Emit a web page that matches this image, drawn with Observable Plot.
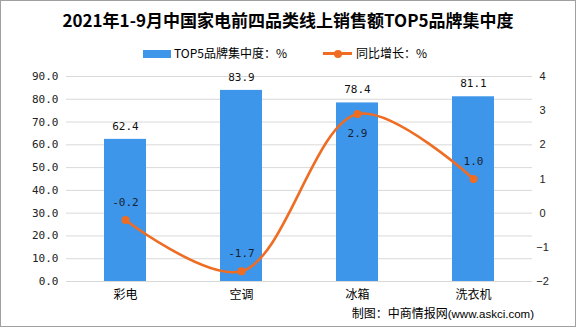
<!DOCTYPE html>
<html><head><meta charset="utf-8">
<script src="https://cdn.jsdelivr.net/npm/d3@7"></script>
<script src="https://cdn.jsdelivr.net/npm/@observablehq/plot@0.6"></script>
<style>
html,body{margin:0;padding:0;background:#fff;}
#wrap{position:relative;width:576px;height:327px;overflow:hidden;background:#fff;font-family:"Noto Sans CJK SC",sans-serif;color:#000;}
#frame{position:absolute;left:0;top:0;width:576px;height:327px;box-sizing:border-box;border:1px solid #a0a0a0;pointer-events:none;}
#title{position:absolute;left:0;top:9px;width:576px;text-align:center;font-size:17px;font-weight:bold;line-height:22px;white-space:nowrap;}
.lg{position:absolute;font-size:12px;line-height:14px;top:46px;white-space:nowrap;}
#c1,#c2{position:absolute;left:0;top:62px;}
#caption{position:absolute;right:42px;top:305px;font-size:12px;line-height:16px;white-space:nowrap;}
#caption .u{font-family:"Liberation Sans",Arial,sans-serif;font-size:11.5px;}
</style></head>
<body>
<div id="wrap">
  <div id="c1"></div>
  <div id="c2"></div>
  <div id="title"></div>
  <div id="legend"></div>
  <div id="caption"><span id="capA"></span><span class="u" id="capB"></span></div>
  <div id="frame"></div>
</div>
<script>
const titleText = "2021年1-9月中国家电前四品类线上销售额TOP5品牌集中度";
const seriesNames = ["TOP5品牌集中度：%", "同比增长：%"];
const categories = ["彩电", "空调", "冰箱", "洗衣机"];
const shareValues = [62.4, 83.9, 78.4, 81.1];
const growthValues = [-0.2, -1.7, 2.9, 1.0];
const leftTicks = [0, 10, 20, 30, 40, 50, 60, 70, 80, 90];
const rightTicks = [-2, -1, 0, 1, 2, 3, 4];
const captionA = "制图：中商情报网";
const captionB = "(www.askci.com)";

const BLUE = "#3d96ea";
const ORANGE = "#ef6c23";
const MONO = "'DejaVu Sans Mono', 'Liberation Mono', monospace";

const data = categories.map((c, i) => ({cat: c, share: shareValues[i], growth: growthValues[i]}));
const maxGrowth = d3.max(growthValues);

document.getElementById("title").textContent = titleText;
document.getElementById("capA").textContent = captionA;
document.getElementById("capB").textContent = captionB;

// legend
const legend = document.getElementById("legend");
legend.innerHTML =
  `<div style="position:absolute;left:143px;top:50px;width:28px;height:8px;background:${BLUE}"></div>` +
  `<div class="lg" style="left:174px">${seriesNames[0]}</div>` +
  `<div style="position:absolute;left:323px;top:52px;width:29px;height:3px;background:${ORANGE}"></div>` +
  `<div style="position:absolute;left:334px;top:49.5px;width:8px;height:8px;border-radius:50%;background:${ORANGE}"></div>` +
  `<div class="lg" style="left:356px">${seriesNames[1]}</div>`;

const common = {
  width: 576, height: 265,
  marginTop: 14, marginBottom: 46, marginLeft: 66, marginRight: 44,
  x: {domain: categories, paddingInner: 0.64, paddingOuter: 0.32, label: null},
  style: {background: "transparent", fontFamily: "'Noto Sans CJK SC', sans-serif", fontSize: "11px", color: "#000"}
};

const p1 = Plot.plot({
  ...common,
  y: {domain: [0, 90], label: null},
  marks: [
    Plot.gridY(leftTicks, {stroke: "#d9d9d9", strokeOpacity: 1}),
    Plot.barY(data, {x: "cat", y: "share", fill: BLUE}),
    Plot.text(data, {x: "cat", y: "share", text: d => d.share.toFixed(1), dy: -13, fontFamily: MONO, fontSize: 11, fill: "#111"}),
    Plot.axisY(leftTicks, {tickSize: 0, tickPadding: 8, tickFormat: d3.format(".1f"), fontFamily: MONO, fontSize: 11, fill: "#222", label: null}),
    Plot.axisX({tickSize: 0, tickPadding: 9, fontSize: 12, fill: "#000", label: null})
  ]
});
document.getElementById("c1").appendChild(p1);

const p2 = Plot.plot({
  ...common,
  y: {domain: [-2, 4], label: null},
  marks: [
    Plot.line(data, {x: "cat", y: "growth", curve: "catmull-rom", stroke: ORANGE, strokeWidth: 2.6}),
    Plot.dot(data, {x: "cat", y: "growth", r: 4, fill: ORANGE, stroke: "none"}),
    Plot.text(data.filter(d => d.growth !== maxGrowth), {x: "cat", y: "growth", text: d => d.growth.toFixed(1), dy: -18, fontFamily: MONO, fontSize: 11, fill: "#1a1f33"}),
    Plot.text(data.filter(d => d.growth === maxGrowth), {x: "cat", y: "growth", text: d => d.growth.toFixed(1), dy: 19, fontFamily: MONO, fontSize: 11, fill: "#1a1f33"}),
    Plot.axisY(rightTicks, {anchor: "right", tickSize: 0, tickPadding: 10, textAnchor: "middle", fontFamily: "'Liberation Sans', Arial, sans-serif", fontSize: 11, fill: "#222", label: null}),
    Plot.axisX({tickSize: 0, ticks: [], label: null})
  ]
});
document.getElementById("c2").appendChild(p2);
</script>
</body></html>
